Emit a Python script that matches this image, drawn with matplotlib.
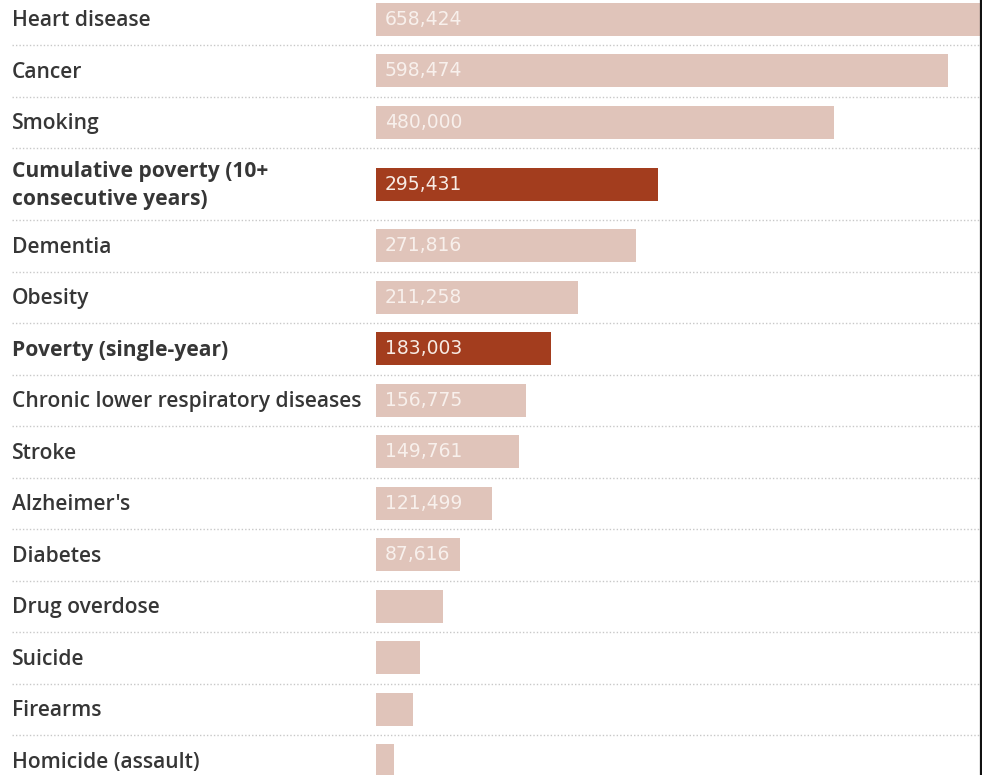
import matplotlib
matplotlib.use("Agg")
import matplotlib.pyplot as plt
from matplotlib.transforms import blended_transform_factory

categories = ["Heart disease", "Cancer", "Smoking", "Cumulative poverty (10+\nconsecutive years)",
              "Dementia", "Obesity", "Poverty (single-year)", "Chronic lower respiratory diseases",
              "Stroke", "Alzheimer's", "Diabetes", "Drug overdose", "Suicide", "Firearms",
              "Homicide (assault)"]
values = [658424, 598474, 480000, 295431, 271816, 211258, 183003, 156775, 149761, 121499,
          87616, 70000, 46500, 38800, 18500]
value_labels = ["658,424", "598,474", "480,000", "295,431", "271,816", "211,258", "183,003",
                "156,775", "149,761", "121,499", "87,616", "", "", "", ""]
highlight = [False, False, False, True, False, False, True, False, False, False,
             False, False, False, False, False]

W, H = 982, 775
fig = plt.figure(figsize=(W / 100, H / 100), dpi=100)
fig.patch.set_facecolor("white")

x0 = 376
ax = fig.add_axes([x0 / W, 0, 1 - x0 / W, 1])
ax.set_xlim(0, (W - x0) / 0.000955)
ax.set_ylim(H, 0)
ax.axis("off")

# row layout (pixel-like units)
row_h = [72 if "\n" in c else 51.5 for c in categories]
top = -6.5
centers, bounds = [], []
y = top
for h in row_h:
    centers.append(y + h / 2)
    y += h
    bounds.append(y)

light, dark = "#e0c4ba", "#a33d1e"
colors = [dark if hl else light for hl in highlight]
ax.barh(centers, values, height=33, color=colors, left=0, clip_on=True)

trans = blended_transform_factory(fig.transFigure, ax.transData)
for c, cat, lab, hl in zip(centers, categories, value_labels, highlight):
    ax.text(12 / W, c + 1.5, cat, transform=trans, ha="left", va="center",
            fontsize=15.1, color="#363636", fontweight="bold" if hl else "semibold",
            linespacing=1.4, family=["Open Sans", "DejaVu Sans"])
    if lab:
        ax.text(9 / 0.000955, c, lab, ha="left", va="center", fontsize=13.5,
                color="#f7ebe4" if hl else "#f8f0ec", family="DejaVu Sans")

for b in bounds[:-1]:
    ax.plot([12 / W, 1], [b, b], transform=trans, color="#c8c8c8", lw=1,
            linestyle=(0, (1, 1.5)), clip_on=False)

fig.add_artist(plt.Line2D([980.5 / W, 980.5 / W], [0, 1], color="#111111", lw=1.6))

fig.savefig("out.png", dpi=100, facecolor="white")
